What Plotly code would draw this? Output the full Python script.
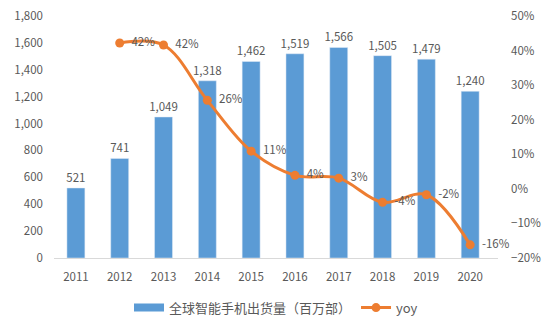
import plotly.graph_objects as go

years = ["2011", "2012", "2013", "2014", "2015", "2016", "2017", "2018", "2019", "2020"]
shipments = [521, 741, 1049, 1318, 1462, 1519, 1566, 1505, 1479, 1240]
yoy_years = ["2012", "2013", "2014", "2015", "2016", "2017", "2018", "2019", "2020"]
yoy = [0.422, 0.416, 0.256, 0.109, 0.039, 0.031, -0.039, -0.017, -0.162]
yoy_labels = ["42%", "42%", "26%", "11%", "4%", "3%", "-4%", "-2%", "-16%"]

FONT = "Noto Sans CJK SC, Liberation Sans, sans-serif"
GREY = "#595959"
BLUE = "#5B9BD5"
ORANGE = "#ED7D31"
FS = 11.5

fig = go.Figure()
fig.add_trace(go.Bar(
    x=years, y=shipments, name="全球智能手机出货量（百万部）",
    marker=dict(color=BLUE), showlegend=False,
    text=[f"{v:,}" for v in shipments], textposition="outside",
    constraintext="none",
    textfont=dict(size=FS, color=GREY, family=FONT),
    cliponaxis=False, width=0.41,
))
# legend-only entry drawn as a wide rectangle like the original
fig.add_trace(go.Scatter(
    x=[None], y=[None], name="全球智能手机出货量（百万部）",
    mode="lines", line=dict(color=BLUE, width=8),
))
fig.add_trace(go.Scatter(
    x=yoy_years, y=yoy, name="yoy", yaxis="y2",
    mode="lines+markers+text",
    line=dict(color=ORANGE, width=3, shape="spline", smoothing=1),
    marker=dict(color=ORANGE, size=9),
    text=["  " + t for t in yoy_labels], textposition="middle right",
    textfont=dict(size=FS, color=GREY, family=FONT),
    cliponaxis=False,
))

fig.update_layout(
    width=548, height=329,
    margin=dict(l=54, r=50, t=16, b=71, autoexpand=False),
    paper_bgcolor="white", plot_bgcolor="white",
    font=dict(family=FONT, size=FS, color=GREY),
    showlegend=True,
    legend=dict(orientation="h", x=0.5, xanchor="center", y=-0.205, yanchor="middle",
                font=dict(size=13, color=GREY, family=FONT), itemwidth=30),
    xaxis=dict(type="category", showgrid=False, showline=True, linecolor="#D9D9D9",
               linewidth=1, ticks="", ticklabelstandoff=8,
               tickfont=dict(size=FS, color=GREY)),
    yaxis=dict(range=[0, 1800], dtick=200, tickformat=",", showgrid=False,
               zeroline=False, showline=False, ticks="", ticklabelstandoff=10,
               tickfont=dict(size=FS, color=GREY)),
    yaxis2=dict(range=[-0.2, 0.5], dtick=0.1, tickformat=".0%", overlaying="y",
                side="right", showgrid=False, zeroline=False, showline=False,
                ticks="", ticklabelstandoff=12, tickfont=dict(size=FS, color=GREY)),
)

fig.write_html("out.html")
